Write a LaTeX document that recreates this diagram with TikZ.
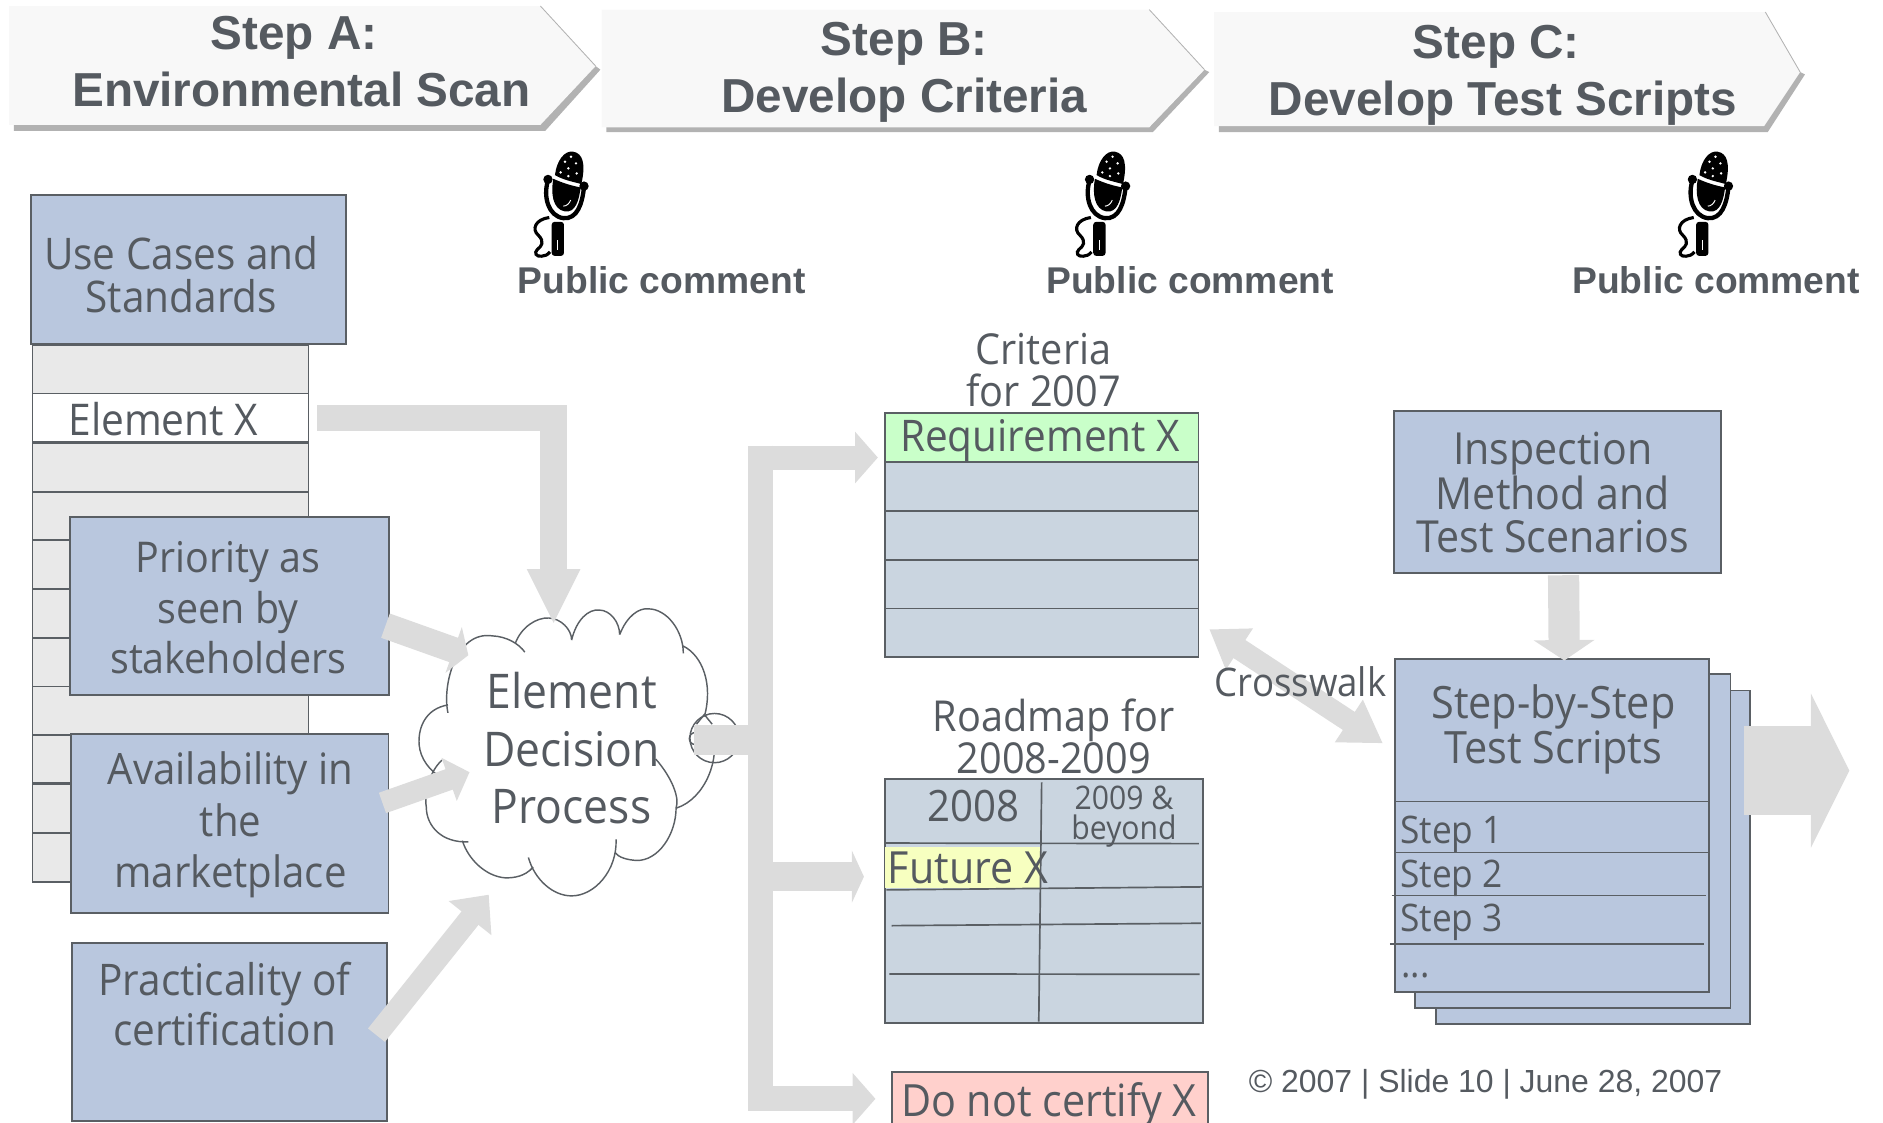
\documentclass[tikz,border=0pt]{standalone}
\usepackage{fontspec}
\setmainfont{Liberation Sans}
\newfontfamily\bodyfont[FakeStretch=0.93]{Open Sans}
\usetikzlibrary{arrows.meta}
\definecolor{inkgray}{HTML}{555A60}
\definecolor{linegray}{HTML}{5A5F64}
\definecolor{boxblue}{HTML}{B9C7DE}
\definecolor{tableblue}{HTML}{CAD5E0}
\definecolor{rowgray}{HTML}{E9E9E9}
\definecolor{arrowgray}{HTML}{DCDCDC}
\definecolor{chevfill}{HTML}{F8F8F8}
\definecolor{chevshade}{HTML}{B2B2B2}
\definecolor{reqgreen}{HTML}{C9FFC9}
\definecolor{futyellow}{HTML}{F7FFC0}
\definecolor{notred}{HTML}{FFD0CC}

\begin{document}
\begin{tikzpicture}[x=1pt,y=-1pt,
  every node/.style={inner sep=0pt,outer sep=0pt,text=inkgray},
  steplabel/.style={font=\bfseries\fontsize{39.7}{47.5}\selectfont,align=center},
  commentlabel/.style={font=\bfseries\fontsize{31}{36}\selectfont},
  bodytext/.style n args={2}{font=\bodyfont\fontsize{#1}{#2}\selectfont,align=center},
  bluebox/.style={draw=linegray,fill=boxblue,line width=1.6pt},
  listrow/.style={draw=linegray,fill=rowgray,line width=1.4pt,minimum width=230pt,minimum height=40.5pt},
  tablerow/.style={draw=linegray,fill=tableblue,line width=1.4pt,minimum width=261pt,minimum height=40.7pt},
  tableline/.style={draw=linegray,line width=1.4pt},
  bigarrow/.style n args={3}{draw=arrowgray,line width=#1pt,-{Triangle[length=#2pt,width=#3pt]}},
  mic/.pic={
    \fill (135,105) .. controls (140,60) and (165,30) .. (190,35) .. controls (218,40) and (228,70) .. (214,132) .. controls (190,125) and (160,120) .. (135,105) -- cycle;
    \fill[white] (183,50) circle[radius=4] (198,70) circle[radius=4] (165,65) circle[radius=4] (152,97) circle[radius=4] (175,85) circle[radius=4] (200,100) circle[radius=4] (175,108) circle[radius=4];
    \fill (130,116) .. controls (160,130) and (190,138) .. (212,142) .. controls (207,180) and (197,218) .. (165,214) .. controls (128,208) and (122,160) .. (130,116) -- cycle;
    \draw[white,line width=.8pt] (160,198) .. controls (170,198) and (178,190) .. (182,180);
    \draw[line width=3.6pt] (113,125) .. controls (100,170) and (115,228) .. (160,234) .. controls (202,238) and (217,190) .. (222,140);
    \fill (114,118) circle[radius=14] (222,138) circle[radius=14];
    \fill[rounded corners=2.5pt] (125,245) rectangle (162,347);
    \draw[white,line width=.8pt] (143,300) -- (143,330);
    \draw[line width=2.6pt] (118,232) .. controls (75,238) and (65,268) .. (85,285) .. controls (105,305) and (95,318) .. (82,328) .. controls (72,338) and (78,350) .. (95,348) .. controls (105,347) and (112,345) .. (120,335);
  }]
\useasboundingbox (0,0) rectangle (1568,935.1);

%Chevrons
\fill[chevshade] (11.5,20) -- (11.5,109) -- (454,109) -- (500,58) -- (496,55) -- cycle;
\fill[chevfill] (7.5,5) -- (450,5) -- (496,55) -- (450,104) -- (7.5,104) -- cycle;
\draw[chevshade,line width=.7pt] (450,5) -- (496,55);
\fill[chevshade] (505,20) -- (505,110) -- (960,110) -- (1007,60) -- (1003,58) -- cycle;
\fill[chevfill] (501,8) -- (957,8) -- (1003,58) -- (957,106) -- (501,106) -- cycle;
\draw[chevshade,line width=.7pt] (957,8) -- (1003,58);
\fill[chevshade] (1015,20) -- (1015,110) -- (1472,110) -- (1503,62) -- (1499,60) -- cycle;
\fill[chevfill] (1011,10) -- (1470,10) -- (1499,60) -- (1469,105) -- (1011,105) -- cycle;
\draw[chevshade,line width=.7pt] (1470,10) -- (1499,60);

%Nodes
\path
 (251,51) node[steplabel] (stepa) {Step A:\hspace*{12pt}\\Environmental Scan}
 (753,60) node[steplabel] (stepb) {Step B:\\Develop Criteria}
 (1251.5,62.5) node[steplabel] (stepc) {Step C:\hspace*{11pt}\\Develop Test Scripts}
 (551,233) node[commentlabel] (commenta) {Public comment}
 (991,233) node[commentlabel] (commentb) {Public comment}
 (1429,233) node[commentlabel] (commentc) {Public comment}
 ;
\path
 (142,308) node[listrow] (r1) {}
 (142,348) node[listrow,fill=white] (r2) {}
 (142,389) node[listrow] (r3) {}
 (142,430) node[listrow] (r4) {}
 (142,470) node[listrow] (r5) {}
 (142,510.5) node[listrow] (r6) {}
 (142,551.5) node[listrow] (r7) {}
 (142,592) node[listrow] (r8) {}
 (142,632) node[listrow] (r9) {}
 (142,673) node[listrow] (r10) {}
 (142,714) node[listrow] (r11) {}
 (136,349) node[bodytext={36.4}{36}] (elementx) {Element X}
 (156.7,224.3) node[bluebox,minimum width=262.5pt,minimum height=124.5pt] (usecases) {}
 (151,229) node[bodytext={36.3}{36}] (usecasestext) {Use Cases and\\Standards}
 (191,504.7) node[bluebox,minimum width=266pt,minimum height=148.5pt] (priority) {}
 (190,506) node[bodytext={35.3}{42}] (prioritytext) {Priority as\\seen by\\stakeholders}
 (191.5,685.7) node[bluebox,minimum width=264pt,minimum height=148.5pt] (avail) {}
 (192,687) node[bodytext={36}{43}] (availtext) {Availability in\\the\\marketplace}
 (191.2,859.2) node[bluebox,minimum width=262.5pt,minimum height=148.5pt] (practical) {}
 (187,836) node[bodytext={36.3}{42}] (practicaltext) {Practicality of\\certification}
 ;

%Cloud
\draw[linegray,line width=1.2pt]
 (373,593.6) .. controls (368,570) and (380,525) .. (410,529.5) .. controls (422,530) and (432,536) .. (437,543)
 (429,536) .. controls (434,522) and (447,514) .. (457,514.6) .. controls (467,515) and (476,524) .. (476,533)
 (476,533) .. controls (480,516) and (490,507) .. (499,508) .. controls (508,508) and (516,518) .. (516,528.5)
 (516,528.5) .. controls (522,513) and (532,506) .. (540,507) .. controls (555,507) and (569,525) .. (569,544)
 (569,538) .. controls (585,546) and (594,570) .. (586.5,596.7)
 (593,610.6) .. controls (600,630) and (588,665) .. (563,673)
 (546,632) .. controls (560,648) and (566,665) .. (563,672.5) .. controls (563,695) and (548,717) .. (530,716.5) .. controls (522,716) and (515,714) .. (512,709.7)
 (513,699) .. controls (514,725) and (495,746) .. (476,746) .. controls (460,746) and (445,732) .. (440,714)
 (444,722) .. controls (437,730) and (428,731) .. (421,731) .. controls (405,730) and (390,716) .. (385,700)
 (390,701) .. controls (368,702) and (355,688) .. (355,672) .. controls (353,660) and (358,642) .. (368,633)
 (373,587) .. controls (355,590) and (348,605) .. (349,620) .. controls (350,632) and (358,642) .. (368,648)
 (580,603) -- (586.5,595) -- (593,603)
 ;
\path
 (595,614.6) node[draw=linegray,line width=1.2pt,circle,minimum size=41pt] (puff) {}
 (579,615) node[draw=linegray,line width=1.2pt,circle,minimum size=10pt] (puffsmall) {}
 (476,623) node[bodytext={39.8}{48}] (cloud) {Element\\Decision\\Process}
 ;

%Criteria table
\path
 (869,308) node[bodytext={35.5}{35}] (criteriatitle) {Criteria\\for 2007}
 (867.5,364.3) node[tablerow,fill=reqgreen] (c1) {}
 (867.5,405) node[tablerow] (c2) {}
 (867.5,445.7) node[tablerow] (c3) {}
 (867.5,486.4) node[tablerow] (c4) {}
 (867.5,527) node[tablerow] (c5) {}
 (866,367) node[bodytext={36.3}{36}] (reqtext) {Requirement X}
 ;

%Roadmap table
\path
 (877.5,613) node[bodytext={35.5}{35}] (roadmaptitle) {Roadmap for\\2008-2009}
 (869.2,750) node[draw=linegray,fill=tableblue,line width=1.6pt,minimum width=264.5pt,minimum height=203pt] (roadmap) {}
 (801.5,722.3) node[fill=futyellow,minimum width=129pt,minimum height=34.5pt] (future) {}
 ;
\draw[tableline] (867.4,651.4) -- (865,850.7);
\draw[tableline] (737,702) -- (998.4,702.5);
\draw[tableline] (738,741) -- (1002,738.5);
\draw[tableline] (742.5,770.8) -- (1000,768.8);
\draw[tableline] (740.5,811) -- (999,811.3);
\path
 (811,671.6) node[bodytext={36}{36}] (y2008) {2008}
 (936,680) node[bodytext={27}{25}] (y2009) {2009 \&\\beyond}
 (806,723) node[bodytext={36.9}{36}] (futuretext) {Future X}
 (874.3,916) node[draw=linegray,fill=notred,line width=1.6pt,minimum width=262.5pt,minimum height=46pt] (donot) {}
 (873.5,920) node[bodytext={37}{36}] (donottext) {Do not certify X}
 ;

%Test scripts
\path
 (1296.7,409.5) node[bluebox,minimum width=272.5pt,minimum height=135pt] (inspect) {}
 (1293,410) node[bodytext={36.8}{36}] (inspecttext) {Inspection\\Method and\\Test Scenarios}
 (1326.2,714) node[bluebox,minimum width=261.6pt,minimum height=278pt] (sheet3) {}
 (1309.8,700.5) node[bluebox,minimum width=262.4pt,minimum height=278.2pt] (sheet2) {}
 (1292.2,687.2) node[bluebox,minimum width=261.6pt,minimum height=277pt] (sheet1) {}
 (1293.5,607.5) node[bodytext={37.1}{35}] (scripttext) {Step-by-Step\\Test Scripts}
 (1166,694.5) node[bodytext={31.6}{32},anchor=west] (step1) {Step 1}
 (1166,731.2) node[bodytext={31.6}{32},anchor=west] (step2) {Step 2}
 (1166,768) node[bodytext={31.6}{32},anchor=west] (step3) {Step 3}
 (1167,812) node[bodytext={31.6}{32},anchor=west] (stepdots) {...}
 (1237,902.5) node[font=\fontsize{26.6}{32}\selectfont] (copyright) {\textcopyright{} 2007 | Slide 10 | June 28, 2007}
 ;
\draw[tableline] (1161.4,667.5) -- (1423,667.5);
\draw[tableline] (1161.4,710) -- (1423,710);
\draw[tableline] (1158.9,745.8) -- (1421,745.8);
\draw[tableline] (1157.4,786) -- (1419,786);

%Mic
\path (424.6,116.6) pic[scale=.278] (mica) {mic};
\path (875.6,116.6) pic[scale=.278] (micb) {mic};
\path (1377.6,116.6) pic[scale=.278] (micc) {mic};

%Edges
\coordinate (cloudtop) at (461,520);
\coordinate (priostart) at (321,521);
\coordinate (priotip) at (390,545.6);
\coordinate (availstart) at (318.5,668.6);
\coordinate (availtip) at (391,643);
\coordinate (practstart) at (313.5,862);
\coordinate (practtip) at (407,745);
\coordinate (cloudout) at (578,616);
\coordinate (trunkend) at (633,371);
\coordinate (trunktop) at (633,381);
\coordinate (trunkmid) at (633,616);
\coordinate (trunkroad) at (633,730);
\coordinate (trunkbottom) at (633,915);
\coordinate (reqtip) at (731,381);
\coordinate (roadtip) at (719.4,730);
\coordinate (donottip) at (729,915);
\coordinate (crossa) at (1007,524);
\coordinate (crossb) at (1151.6,619);
\coordinate (inspectout) at (1302,479);
\coordinate (sheettip) at (1302.6,550);
\coordinate (sheetout) at (1452,641.7);
\coordinate (outtip) at (1540,641.7);
\draw[bigarrow={22}{46}{41},shorten <=7pt] (r2.east) -| (cloudtop);
\draw[bigarrow={21.5}{13}{40}] (priostart) -- (priotip);
\draw[bigarrow={18}{18}{37}] (availstart) -- (availtip);
\draw[bigarrow={18}{25}{44}] (practstart) -- (practtip);
\draw[arrowgray,line width=25pt] (cloudout) -- (trunkmid);
\draw[bigarrow={21}{19}{42}] (trunkend) -- (trunkbottom) -- (donottip);
\draw[bigarrow={20}{19}{42}] (trunktop) -- (reqtip);
\draw[bigarrow={24.5}{10}{43}] (trunkroad) -- (roadtip);
\draw[draw=arrowgray,line width=18pt,{Triangle[length=30pt,width=39pt]}-{Triangle[length=34pt,width=40pt]}] (crossa) -- (crossb);
\draw[bigarrow={26}{17}{50}] (inspectout) -- (sheettip);
\draw[bigarrow={74}{32}{127}] (sheetout) -- (outtip);

\node[bodytext={32.8}{33}] (crosswalk) at (1083,568) {Crosswalk};
\end{tikzpicture}
\end{document}
